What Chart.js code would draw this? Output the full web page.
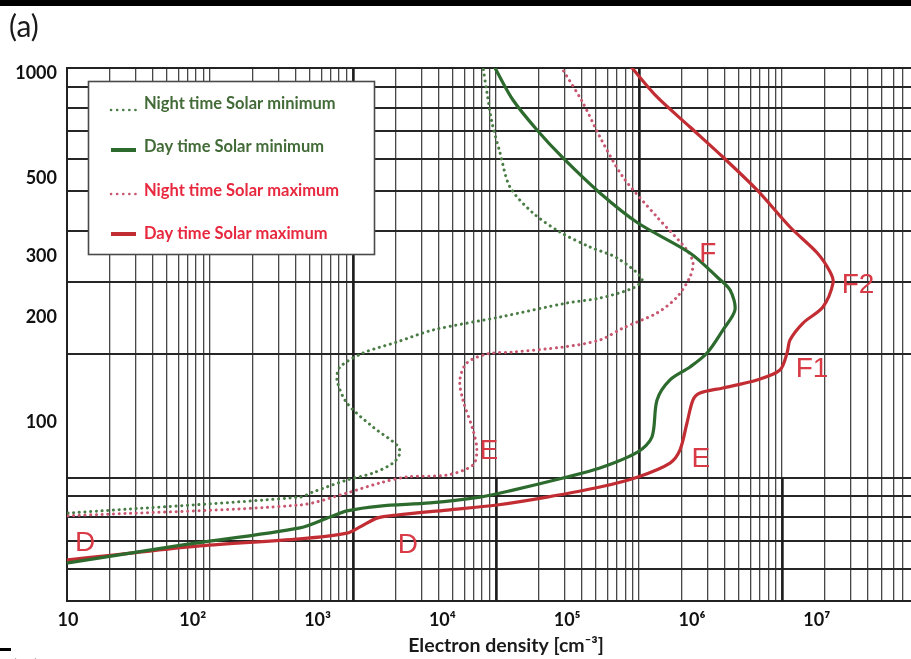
<!DOCTYPE html>
<html>
<head>
<meta charset="utf-8">
<title>Electron density profiles</title>
<script src="https://cdn.jsdelivr.net/npm/chart.js@4.4.1/dist/chart.umd.min.js"></script>
<style>
  html, body { margin: 0; padding: 0; background: #ffffff; }
  #wrap { width: 911px; height: 659px; position: relative; }
</style>
</head>
<body>
<div id="wrap"><canvas id="profile" width="911" height="659"></canvas></div>
<script>
// Electron density (cm^-3) versus altitude (km) for four ionospheric conditions.
const seriesNames = ['Night time Solar minimum', 'Day time Solar minimum', 'Night time Solar maximum', 'Day time Solar maximum'];

const nightMinDensity = [10, 723, 918, 1720, 2780, 4020, 4570, 4325, 2780, 1720, 1431, 1513, 2313, 4325, 8410, 29000, 99800, 183000, 337000, 398000, 251000, 152000, 87500, 53200, 34800, 29000, 25000, 22800, 21200];
const nightMinAltitude = [55.0, 61.1, 63.2, 68.4, 71.6, 76.5, 81.7, 86.1, 97.0, 113.6, 132.3, 144.1, 158.0, 169.9, 183.9, 200.4, 219.8, 227.1, 242.6, 257.5, 295.7, 318.0, 351, 397.9, 472.2, 590.9, 720.2, 877.6, 1035];

const dayMinDensity = [10, 83.5, 723, 1257, 1720, 3162, 7960, 20000, 36800, 92600, 183000, 369000, 478000, 525000, 667000, 964000, 1.32e6, 1.77e6, 2.21e6, 2.02e6, 1.59e6, 9.64e5, 369000, 183000, 92600, 57300, 36800, 26400];
const dayMinAltitude = [39.6, 44.6, 49.9, 53.6, 55.8, 57.6, 58.8, 61.1, 64.0, 69.3, 74.0, 82.3, 90.8, 116, 132.3, 144.1, 158, 183.9, 209.8, 239.4, 260.9, 305.6, 372.4, 453.9, 571.8, 687.8, 838, 1035];

const nightMaxDensity = [10, 723, 1720, 3162, 5210, 10900, 17600, 18900, 17600, 14600, 13800, 15700, 22800, 36800, 92600, 183000, 280000, 525000, 759000, 964000, 1.02e6, 912000, 525000, 280000, 183000, 134000, 92600];
const nightMaxAltitude = [54.0, 58.0, 62.8, 67.1, 69.8, 70.7, 75.5, 83.4, 95.1, 116, 132.3, 148.0, 157.0, 159.1, 164.4, 172.2, 186.3, 205.8, 228.6, 260.9, 286.0, 311.7, 387.5, 504.4, 656.8, 821.6, 1021];

const dayMaxDensity = [10, 22.9, 114, 723, 1720, 2190, 2990, 4330, 10900, 27400, 68900, 183000, 369000, 667000, 802000, 912000, 1.02e6, 1.16e6, 1.77e6, 3.32e6, 5.07e6, 5.78e6, 6.1e6, 7.76e6, 1.12e7, 1.35e7, 1.28e7, 1.01e7, 6.1e6, 3.32e6, 1.77e6, 9.64e5, 5.25e5, 3.31e5];
const dayMaxAltitude = [40.4, 41.7, 44.3, 46.4, 48.2, 50.2, 53.2, 54.3, 56.1, 58.0, 61.1, 65.3, 69.8, 76.5, 83.4, 99.6, 116, 121.4, 125.5, 132.3, 141.3, 158, 172.2, 192.6, 214.1, 250.7, 269.6, 305.6, 362.7, 463.1, 575.4, 701.5, 855, 1035];

// Axis ticks
const densityTicks = [10, 1e2, 1e3, 1e4, 1e5, 1e6, 1e7];
const densityTickLabels = ['10', '10\u00B2', '10\u00B3', '10\u2074', '10\u2075', '10\u2076', '10\u2077'];
const altitudeTicks = [100, 200, 300, 500, 1000];

// Ionospheric layer names and where they sit
const layerNames = ['D', 'D', 'E', 'E', 'F', 'F1', 'F2'];
const layerDensity = [13.7, 5300, 23600, 1.18e6, 1.34e6, 9.16e6, 2.14e7];
const layerAltitude = [45.7, 45.2, 83.9, 79.6, 307.6, 144.1, 250.7];

// Log graph-paper rulings behind the plot
const paperCyclesX = [1, 10, 100, 1000, 10000, 100000];
const paperCyclesY = [0.1, 1];
const paperUpperHeavy = [100, 10000];
const paperLowerHeavy = [100, 1000, 100000];

const GREEN_TEXT = '#426b37';
const RED_TEXT = '#e8283e';
const LAYER_RED = '#d83a46';
const UI_FONT = 'Lato, "Open Sans", "Liberation Sans", sans-serif';

function points(xs, ys) { return xs.map((x, i) => ({ x: x, y: ys[i] })); }

function cycleLines(cycles, lo, hi) {
  const out = [];
  cycles.forEach(c => { for (let k = 1; k <= 9; k++) { const v = +(c * k).toPrecision(3); if (v >= lo && v <= hi) out.push(v); } });
  const top = +(cycles[cycles.length - 1] * 10).toPrecision(3);
  if (top <= hi) out.push(top);
  return out;
}

const styles = [
  { color: '#4a7d46', dotted: true },
  { color: '#2c6a2d', dotted: false },
  { color: '#c8566f', dotted: true },
  { color: '#c22d33', dotted: false }
];

const datasets = [
  points(nightMinDensity, nightMinAltitude),
  points(dayMinDensity, dayMinAltitude),
  points(nightMaxDensity, nightMaxAltitude),
  points(dayMaxDensity, dayMaxAltitude)
].map((data, i) => ({
  label: seriesNames[i],
  data: data,
  showLine: true,
  pointRadius: 0,
  borderColor: styles[i].color,
  backgroundColor: styles[i].color,
  borderWidth: styles[i].dotted ? 3 : 3.2,
  borderDash: styles[i].dotted ? [0.1, 5.6] : [],
  borderCapStyle: 'round',
  borderJoinStyle: 'round',
  tension: 0.3,
  xAxisID: 'x',
  yAxisID: 'y'
}));

// Heavier rulings on selected decades of the graph paper
const paperEmphasis = {
  id: 'paperEmphasis',
  beforeDatasetsDraw(chart) {
    const { ctx } = chart;
    const px = chart.scales.paperX, py = chart.scales.paperY;
    const top = py.getPixelForValue(10), split = py.getPixelForValue(1), bottom = py.getPixelForValue(0.5);
    ctx.save();
    ctx.strokeStyle = '#1c1c1c';
    ctx.lineWidth = 2.4;
    const seg = (v, y0, y1) => {
      const x = Math.round(px.getPixelForValue(v)) + 0.5;
      ctx.beginPath(); ctx.moveTo(x, y0); ctx.lineTo(x, y1); ctx.stroke();
    };
    paperUpperHeavy.forEach(v => seg(v, top, split));
    paperLowerHeavy.forEach(v => seg(v, split, bottom));
    ctx.restore();
  }
};

// Layer names next to the profiles
const layerTags = {
  id: 'layerTags',
  afterDatasetsDraw(chart) {
    const { ctx } = chart;
    const sx = chart.scales.x, sy = chart.scales.y;
    const size = 28;
    ctx.save();
    ctx.fillStyle = LAYER_RED;
    ctx.font = size + 'px "Liberation Sans Narrow", "Liberation Sans", sans-serif';
    ctx.textAlign = 'center';
    ctx.textBaseline = 'alphabetic';
    layerNames.forEach((name, i) => {
      const x = sx.getPixelForValue(layerDensity[i]);
      const y = sy.getPixelForValue(layerAltitude[i]);
      ctx.fillText(name, x, y + size * 0.358);
    });
    ctx.restore();
  }
};

// Boxed key in the upper-left corner of the plot
const keyBox = {
  id: 'keyBox',
  afterDatasetsDraw(chart) {
    const { ctx } = chart;
    const box = { x: 88, y: 81, w: 286, h: 173 };
    const textBase = [109, 152, 196, 239];
    const sampleY = [110, 150, 194, 234];
    const textColors = [GREEN_TEXT, GREEN_TEXT, RED_TEXT, RED_TEXT];
    ctx.save();
    ctx.fillStyle = '#ffffff';
    ctx.fillRect(box.x, box.y, box.w, box.h);
    ctx.strokeStyle = '#4a4a4a';
    ctx.lineWidth = 1.6;
    ctx.strokeRect(box.x + 0.5, box.y + 0.5, box.w, box.h);
    chart.data.datasets.forEach((ds, i) => {
      const y = sampleY[i];
      ctx.strokeStyle = ds.borderColor;
      ctx.lineCap = 'round';
      if (styles[i].dotted) {
        ctx.lineWidth = 2.6;
        ctx.setLineDash([0.1, 6]);
      } else {
        ctx.lineWidth = 4;
        ctx.setLineDash([]);
        ctx.lineCap = 'butt';
      }
      ctx.beginPath(); ctx.moveTo(111, y); ctx.lineTo(136, y); ctx.stroke();
      ctx.setLineDash([]);
      ctx.fillStyle = textColors[i];
      ctx.font = 'bold 16.5px ' + UI_FONT;
      ctx.textAlign = 'left';
      ctx.textBaseline = 'alphabetic';
      ctx.fillText(ds.label, 144, textBase[i]);
    });
    ctx.restore();
  }
};

// Panel furniture: top rule, panel letter, axis title
const panelFrame = {
  id: 'panelFrame',
  afterDraw(chart) {
    const { ctx } = chart;
    ctx.save();
    ctx.fillStyle = '#000000';
    ctx.fillRect(0, 0, 911, 6);
    ctx.fillStyle = '#1a1a1a';
    ctx.font = '30px ' + UI_FONT;
    ctx.textAlign = 'left';
    ctx.textBaseline = 'alphabetic';
    ctx.fillText('(a)', 9, 37);
    ctx.font = 'bold 19.5px ' + UI_FONT;
    ctx.textAlign = 'center';
    ctx.fillText('Electron density [cm\u207B\u00B3]', 506, 652);
    ctx.fillStyle = '#000000';
    ctx.fillRect(0, 648, 11, 3);
    ctx.font = '29px ' + UI_FONT;
    ctx.textAlign = 'left';
    ctx.fillText('(b)', 10, 681);
    ctx.restore();
  }
};

const tickFont = { family: UI_FONT, weight: 'bold', size: 18 };

function build() {
  new Chart(document.getElementById('profile'), {
    type: 'scatter',
    data: { datasets: datasets },
    plugins: [paperEmphasis, layerTags, keyBox, panelFrame],
    options: {
      responsive: false,
      animation: false,
      events: [],
      layout: { padding: { top: 68, right: 0, bottom: 0, left: 0 } },
      plugins: { legend: { display: false }, tooltip: { enabled: false }, title: { display: false } },
      scales: {
        paperX: {
          type: 'logarithmic', position: 'top', min: 1, max: 7.98e5, bounds: 'data',
          grid: { drawTicks: false, color: '#474747', lineWidth: 1.3 },
          border: { display: true, color: '#222222', width: 2 },
          ticks: { display: false, autoSkip: false },
          afterBuildTicks: s => { s.ticks = cycleLines(paperCyclesX, 1, 7.98e5).map(v => ({ value: v })); },
          afterFit: s => { s.height = 0; }
        },
        paperY: {
          type: 'logarithmic', position: 'right', min: 0.5, max: 10, bounds: 'data',
          grid: { drawTicks: false, color: '#262626', lineWidth: 2 },
          border: { display: false },
          ticks: { display: false, autoSkip: false },
          afterBuildTicks: s => { s.ticks = cycleLines(paperCyclesY, 0.5, 10).map(v => ({ value: v })); },
          afterFit: s => { s.width = 0; }
        },
        x: {
          type: 'logarithmic', position: 'bottom', min: 9.82, max: 5.69e7, bounds: 'data',
          grid: { display: false, drawTicks: false },
          border: { display: true, color: '#222222', width: 2 },
          ticks: {
            autoSkip: false, maxRotation: 0, padding: 8, color: '#111111', font: tickFont,
            callback: v => densityTickLabels[densityTicks.indexOf(v)]
          },
          afterBuildTicks: s => { s.ticks = densityTicks.map(v => ({ value: v })); },
          afterFit: s => { s.height = 58; }
        },
        y: {
          type: 'logarithmic', position: 'left', min: 30.8, max: 1035, bounds: 'data',
          grid: { display: false, drawTicks: false },
          border: { display: true, color: '#222222', width: 2 },
          ticks: { autoSkip: false, padding: 10, color: '#111111', font: tickFont, callback: v => String(v) },
          afterBuildTicks: s => { s.ticks = altitudeTicks.map(v => ({ value: v })); },
          afterFit: s => { s.width = 67; }
        }
      }
    }
  });
}

if (document.fonts && document.fonts.load) {
  Promise.all([
    document.fonts.load('bold 18px Lato'),
    document.fonts.load('30px Lato'),
    document.fonts.load('28px "Liberation Sans Narrow"')
  ]).then(build, build);
} else {
  build();
}
</script>
</body>
</html>
